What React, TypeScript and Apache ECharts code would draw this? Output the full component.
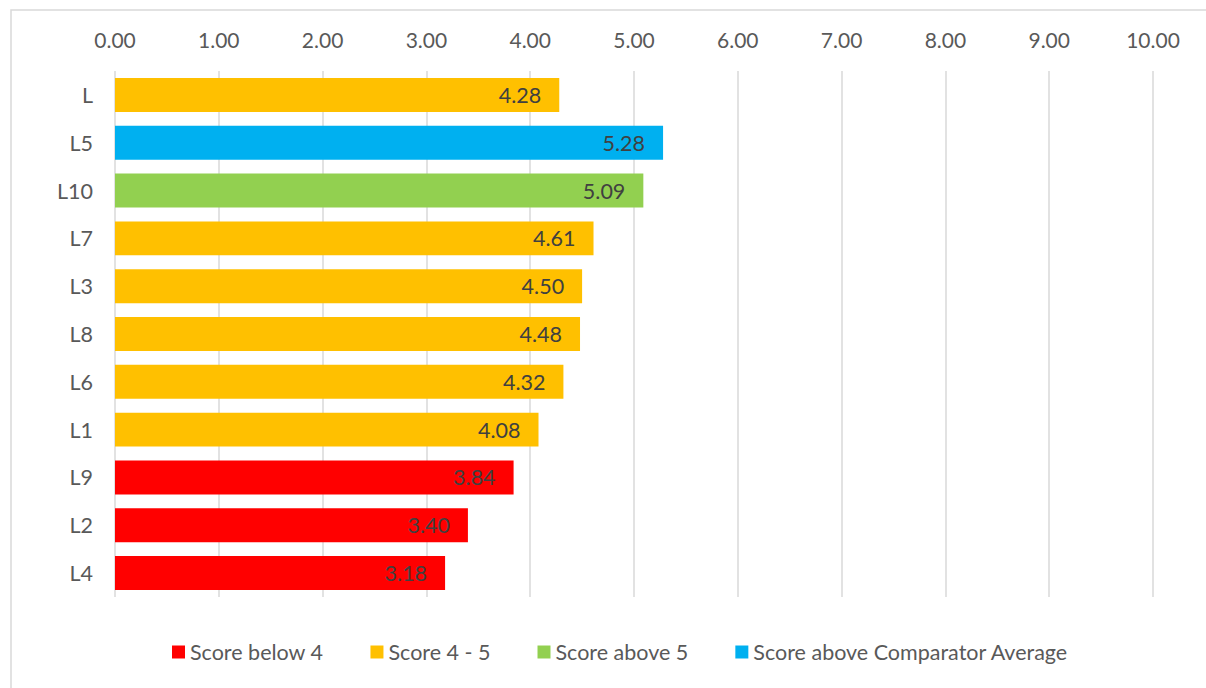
import React, { useEffect, useRef } from "react";
import * as echarts from "echarts";

const categories = ["L", "L5", "L10", "L7", "L3", "L8", "L6", "L1", "L9", "L2", "L4"];
const values = [4.28, 5.28, 5.09, 4.61, 4.5, 4.48, 4.32, 4.08, 3.84, 3.4, 3.18];
// group index per category: 0 below 4, 1 4-5, 2 above 5, 3 above comparator
const groups = [1, 3, 2, 1, 1, 1, 1, 1, 0, 0, 0];
const seriesNames = ["Score below 4", "Score 4 - 5", "Score above 5", "Score above Comparator Average"];
const seriesColors = ["#FF0000", "#FFC000", "#92D050", "#00B0F0"];
const xTicks = { min: 0, max: 10, interval: 1 };

export default function App() {
  const ref = useRef<HTMLDivElement>(null);
  useEffect(() => {
    if (!ref.current) return;
    const chart = echarts.init(ref.current, undefined, { renderer: "svg" });
    const font = "Lato, 'Open Sans', sans-serif";
    const series = seriesNames.map((name, gi) => ({
      name,
      type: "bar",
      stack: "total",
      barCategoryGap: "29%",
      itemStyle: { color: seriesColors[gi] },
      label: {
        show: true,
        position: "insideRight",
        color: "#404040",
        fontSize: 21.5,
        fontFamily: font,
        distance: 18,
        formatter: (p: any) => (typeof p.value === "number" ? p.value.toFixed(2) : ""),
      },
      data: values.map((v, i) => (groups[i] === gi ? v : "-")),
    }));
    chart.setOption({
      animation: false,
      textStyle: { fontFamily: font },
      graphic: [
        {
          type: "rect",
          shape: { x: 11, y: 10, width: 1210, height: 700 },
          style: { fill: "none", stroke: "#d9d9d9", lineWidth: 1.5 },
          silent: true,
        },
      ],
      grid: { left: 115, right: 53, top: 71, bottom: 91, containLabel: false },
      xAxis: {
        type: "value",
        position: "top",
        min: xTicks.min,
        max: xTicks.max,
        interval: xTicks.interval,
        axisLine: { show: false },
        axisTick: { show: false },
        axisLabel: {
          color: "#595959",
          fontSize: 21,
          fontFamily: font,
          margin: 21,
          formatter: (v: number) => v.toFixed(2),
        },
        splitLine: { show: true, lineStyle: { color: "#d9d9d9", width: 1.5 } },
      },
      yAxis: {
        type: "category",
        data: categories,
        inverse: true,
        axisLine: { show: false },
        axisTick: { show: false },
        axisLabel: { color: "#595959", fontSize: 21.5, fontFamily: font, margin: 22 },
      },
      legend: {
        bottom: 20,
        left: 167,
        data: seriesNames,
        itemWidth: 13,
        itemHeight: 13,
        itemGap: 47,
        icon: "rect",
        textStyle: { color: "#595959", fontSize: 21.5, fontFamily: font, padding: [0, 0, 0, 0] },
      },
      series,
    });
    return () => chart.dispose();
  }, []);
  return <div ref={ref} style={{ position: "fixed", left: 0, top: 0, width: 1206, height: 688, background: "#fff" }} />;
}
